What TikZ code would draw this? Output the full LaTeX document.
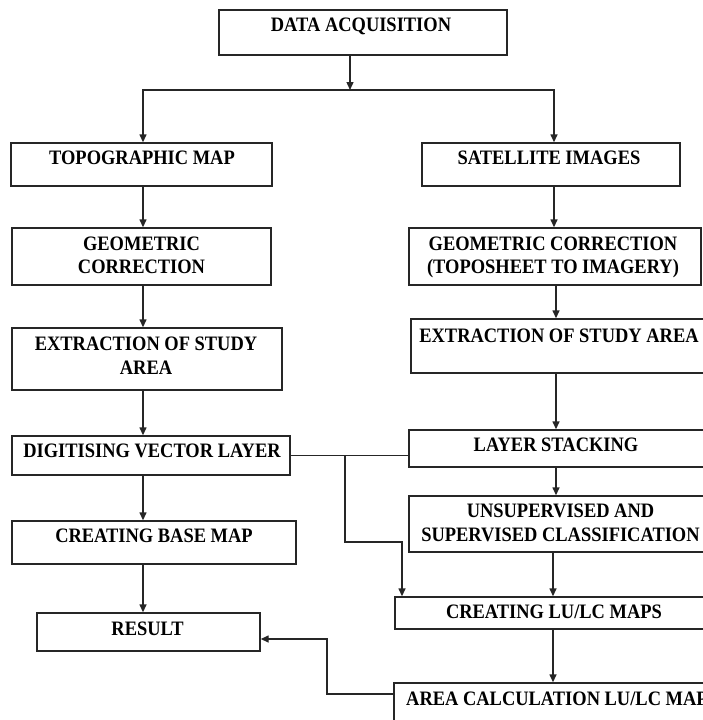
\documentclass[tikz,border=0pt]{standalone}
\usepackage{fontspec}
\newfontfamily\boxfont{Liberation Serif}[FakeStretch=0.9]
\usetikzlibrary{arrows.meta,fit}
\begin{document}
\begin{tikzpicture}[x=1pt,y=-1pt,
  box/.style={draw=black!85, line width=1.4pt, inner sep=0pt},
  txt/.style={font=\boxfont\bfseries\fontsize{20.5}{23.5}\selectfont, align=center, inner sep=0pt, text=black},
  conn/.style={draw=black!85, line width=1.4pt},
  arr/.style={conn, -{Triangle[length=8pt,width=7pt]}}]
\useasboundingbox (0,0) rectangle (703,720);
\clip (0,0) rectangle (703,720);
% boxes
\node[box, fit={(219,10) (507,55)}] (acq) {};
\node[box, fit={(11,143) (272,186)}] (topo) {};
\node[box, fit={(422,143) (680,186)}] (sat) {};
\node[box, fit={(12,228) (271,285)}] (geoL) {};
\node[box, fit={(409,228) (701,285)}] (geoR) {};
\node[box, fit={(12,328) (282,390)}] (extL) {};
\node[box, fit={(411,319) (710,373)}] (extR) {};
\node[box, fit={(12,436) (290,475)}] (dig) {};
\node[box, fit={(409,430) (710,467)}] (layer) {};
\node[box, fit={(12,521) (296,564)}] (base) {};
\node[box, fit={(409,496) (710,552)}] (unsup) {};
\node[box, fit={(37,613) (260,651)}] (result) {};
\node[box, fit={(395,597) (710,629)}] (lulc) {};
\node[box, fit={(394,683) (710,730)}] (area) {};
% texts
\node[txt] (tacq) at (361,26) {DATA ACQUISITION};
\node[txt] (ttopo) at (142,158) {TOPOGRAPHIC MAP};
\node[txt] (tsat) at (549,158) {SATELLITE IMAGES};
\node[txt] (tgeoL) at (141.5,255.5) {GEOMETRIC\\CORRECTION};
\node[txt] (tgeoR) at (553,257.5) {GEOMETRIC CORRECTION\\(TOPOSHEET TO IMAGERY)};
\node[txt] (textL) at (146,355.5) {EXTRACTION OF STUDY\\AREA};
\node[txt] (textR) at (559,335.5) {EXTRACTION OF STUDY AREA};
\node[txt] (tdig) at (152,450.5) {DIGITISING VECTOR LAYER};
\node[txt] (tlayer) at (556,445) {LAYER STACKING};
\node[txt] (tunsup) at (560.5,523) {UNSUPERVISED AND\\SUPERVISED CLASSIFICATION};
\node[txt] (tbase) at (154,536) {CREATING BASE MAP};
\node[txt] (tresult) at (147.5,628.5) {RESULT};
\node[txt] (tlulc) at (554,612) {CREATING LU/LC MAPS};
\node[txt, anchor=west] (tarea) at (406,698.5) {AREA CALCULATION LU/LC MAP};
% helper coordinates
\coordinate (cA) at (350,90);
\coordinate (cL) at (143,0);
\coordinate (cR) at (554,0);
\coordinate (cR2) at (556,0);
\coordinate (cR3) at (553,0);
\coordinate (bj) at (345,542);
\coordinate (bk) at (402,542);
\coordinate (rj) at (327,694);
\coordinate (rk) at (327,639);
% connectors
\draw[arr] (acq.south -| cA) -- (cA);
\draw[arr] (cA) -| (topo.north -| cL);
\draw[arr] (cA) -| (sat.north -| cR);
\draw[arr] (topo.south -| cL) -- (geoL.north -| cL);
\draw[arr] (geoL.south -| cL) -- (extL.north -| cL);
\draw[arr] (extL.south -| cL) -- (dig.north -| cL);
\draw[arr] (dig.south -| cL) -- (base.north -| cL);
\draw[arr] (base.south -| cL) -- (result.north -| cL);
\draw[arr] (sat.south -| cR) -- (geoR.north -| cR);
\draw[arr] (geoR.south -| cR2) -- (extR.north -| cR2);
\draw[arr] (extR.south -| cR2) -- (layer.north -| cR2);
\draw[arr] (layer.south -| cR2) -- (unsup.north -| cR2);
\draw[arr] (unsup.south -| cR3) -- (lulc.north -| cR3);
\draw[arr] (lulc.south -| cR3) -- (area.north -| cR3);
\draw[conn] (dig.east) -- (dig.east -| layer.west);
\draw[arr] (dig.east -| bj) -- (bj) -- (bk) -- (bk |- lulc.north);
\draw[arr] (area.west |- rj) -- (rj) -- (rk) -- (rk -| result.east);
\end{tikzpicture}
\end{document}
